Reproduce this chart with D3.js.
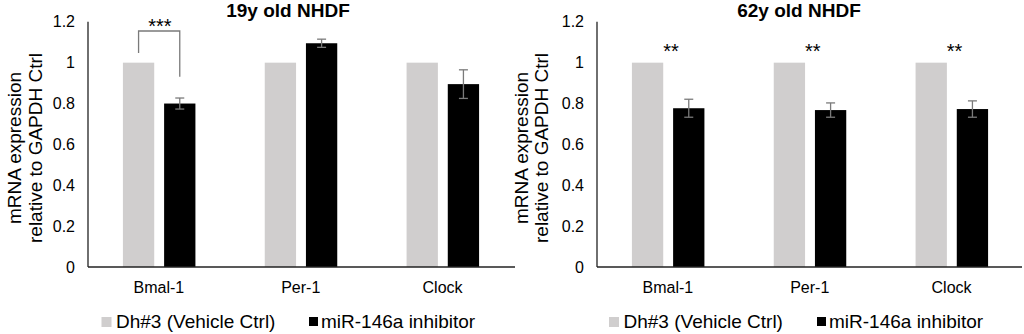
<!DOCTYPE html>
<html>
<head>
<meta charset="utf-8">
<script src="https://cdn.jsdelivr.net/npm/d3@7"></script>
<style>
  html, body { margin: 0; padding: 0; background: #fff; }
  svg { display: block; font-family: "Liberation Sans", Arial, sans-serif; }
</style>
</head>
<body>
<svg id="chart" width="1024" height="334"></svg>
<script>
// ---- data ----
const categories = ["Bmal-1", "Per-1", "Clock"];
const seriesNames = ["Dh#3 (Vehicle Ctrl)", "miR-146a inhibitor"];
const yTicks = [0, 0.2, 0.4, 0.6, 0.8, 1, 1.2];
const yTickLabels = ["0", "0.2", "0.4", "0.6", "0.8", "1", "1.2"];

const youngTitle = "19y old NHDF";
const youngVehicle = [1, 1, 1];
const youngInhibitor = [0.80, 1.095, 0.895];
const youngInhibitorErr = [0.027, 0.02, 0.07];
const youngStars = ["***", "", ""];
const youngStarValue = [1.2, null, null];
const youngBracket = [[1.047, 1.155, 0.931], null, null]; // left end, top, right end

const oldTitle = "62y old NHDF";
const oldVehicle = [1, 1, 1];
const oldInhibitor = [0.777, 0.768, 0.773];
const oldInhibitorErr = [0.044, 0.035, 0.04];
const oldStars = ["**", "**", "**"];
const oldStarValue = [1.077, 1.077, 1.077];
const oldBracket = [null, null, null];

const yTitleLines = ["mRNA expression", "relative to GAPDH Ctrl"];

// ---- layout ----
const svg = d3.select("#chart");
const colors = ["#d0cece", "#000000"];

function panel(opt) {
  const g = svg.append("g");
  const y = d3.scaleLinear().domain([0, 1.2]).range([267, 21.8]);
  const x = d3.scaleBand().domain(categories).range([opt.axisX, opt.axisX + 425.5]);
  const xs = d3.scaleBand().domain(seriesNames).range([0, 72.5]).paddingInner(0.24);
  const groupOff = x.bandwidth() / 2 - 36;

  // bars
  const vals = [opt.vehicle, opt.inhibitor];
  seriesNames.forEach((s, si) => {
    g.selectAll(null).data(categories).enter().append("rect")
      .attr("x", c => x(c) + groupOff + xs(s))
      .attr("y", (c, i) => y(vals[si][i]))
      .attr("width", xs.bandwidth())
      .attr("height", (c, i) => y(0) - y(vals[si][i]))
      .attr("fill", colors[si]);
  });

  // error bars on inhibitor
  const ecx = c => x(c) + groupOff + xs(seriesNames[1]) + xs.bandwidth() / 2;
  categories.forEach((c, i) => {
    const v = opt.inhibitor[i], e = opt.err[i];
    const cx = ecx(c);
    const eg = g.append("g").attr("stroke", "#7a7a7a").attr("stroke-width", 1.3);
    eg.append("line").attr("x1", cx).attr("x2", cx).attr("y1", y(v + e)).attr("y2", y(v - e));
    eg.append("line").attr("x1", cx - 4.5).attr("x2", cx + 4.5).attr("y1", y(v + e)).attr("y2", y(v + e));
    eg.append("line").attr("x1", cx - 4.5).attr("x2", cx + 4.5).attr("y1", y(v - e)).attr("y2", y(v - e));
  });

  // brackets
  categories.forEach((c, i) => {
    const b = opt.bracket[i];
    if (!b) return;
    const x1 = x(c) + groupOff + xs(seriesNames[0]) + xs.bandwidth() / 2;
    const x2 = ecx(c);
    g.append("path")
      .attr("d", `M${x1},${y(b[0])}V${y(b[1])}H${x2}V${y(b[2])}`)
      .attr("fill", "none").attr("stroke", "#7a7a7a").attr("stroke-width", 1.3);
  });

  // stars
  categories.forEach((c, i) => {
    if (!opt.stars[i]) return;
    g.append("text")
      .attr("x", x(c) + x.bandwidth() / 2 + opt.starDx)
      .attr("y", y(opt.starValue[i]) + 11.4)
      .attr("text-anchor", "middle")
      .attr("font-size", 20).attr("fill", "#000")
      .text(opt.stars[i]);
  });

  // axes lines
  g.append("line").attr("x1", opt.axisX).attr("x2", opt.axisX)
    .attr("y1", y(1.2)).attr("y2", y(0)).attr("stroke", "#222").attr("stroke-width", 1.3);
  g.append("line").attr("x1", opt.axisX).attr("x2", opt.xEnd)
    .attr("y1", y(0)).attr("y2", y(0)).attr("stroke", "#222").attr("stroke-width", 1.3);

  // y tick labels
  g.selectAll(null).data(yTicks).enter().append("text")
    .attr("x", opt.axisX - 13).attr("y", d => y(d)).attr("dy", "0.35em")
    .attr("text-anchor", "end").attr("font-size", 16).attr("fill", "#000")
    .text((d, i) => yTickLabels[i]);

  // category labels
  g.selectAll(null).data(categories).enter().append("text")
    .attr("x", c => x(c) + x.bandwidth() / 2).attr("y", 292.5)
    .attr("text-anchor", "middle").attr("font-size", 16).attr("fill", "#000")
    .text(c => c);

  // title
  g.append("text").attr("x", opt.titleX).attr("y", 16.5)
    .attr("text-anchor", "middle").attr("font-size", 19).attr("font-weight", "bold")
    .text(opt.title);

  // y title
  yTitleLines.forEach((t, i) => {
    g.append("text")
      .attr("transform", `translate(${opt.yTitleX[i]},148) rotate(-90)`)
      .attr("text-anchor", "middle").attr("font-size", 19).attr("fill", "#000")
      .text(t);
  });

  // legend
  const lg = g.append("g");
  seriesNames.forEach((s, si) => {
    lg.append("rect").attr("x", opt.legendX[si]).attr("y", 317)
      .attr("width", si === 0 ? 10 : 9).attr("height", si === 0 ? 10 : 9).attr("fill", colors[si]);
    lg.append("text").attr("x", opt.legendX[si] + (si === 0 ? 14.5 : 12)).attr("y", 327.5)
      .attr("font-size", 19).attr("fill", "#000").text(s);
  });
}

panel({
  axisX: 88, xEnd: 515, title: youngTitle, titleX: 288,
  vehicle: youngVehicle, inhibitor: youngInhibitor, err: youngInhibitorErr,
  stars: youngStars, starValue: youngStarValue, bracket: youngBracket, starDx: 1,
  yTitleX: [20.5, 42], legendX: [101.5, 309]
});
panel({
  axisX: 597, xEnd: 1022, title: oldTitle, titleX: 799,
  vehicle: oldVehicle, inhibitor: oldInhibitor, err: oldInhibitorErr,
  stars: oldStars, starValue: oldStarValue, bracket: oldBracket, starDx: 3,
  yTitleX: [528, 548], legendX: [609, 817]
});
</script>
</body>
</html>
